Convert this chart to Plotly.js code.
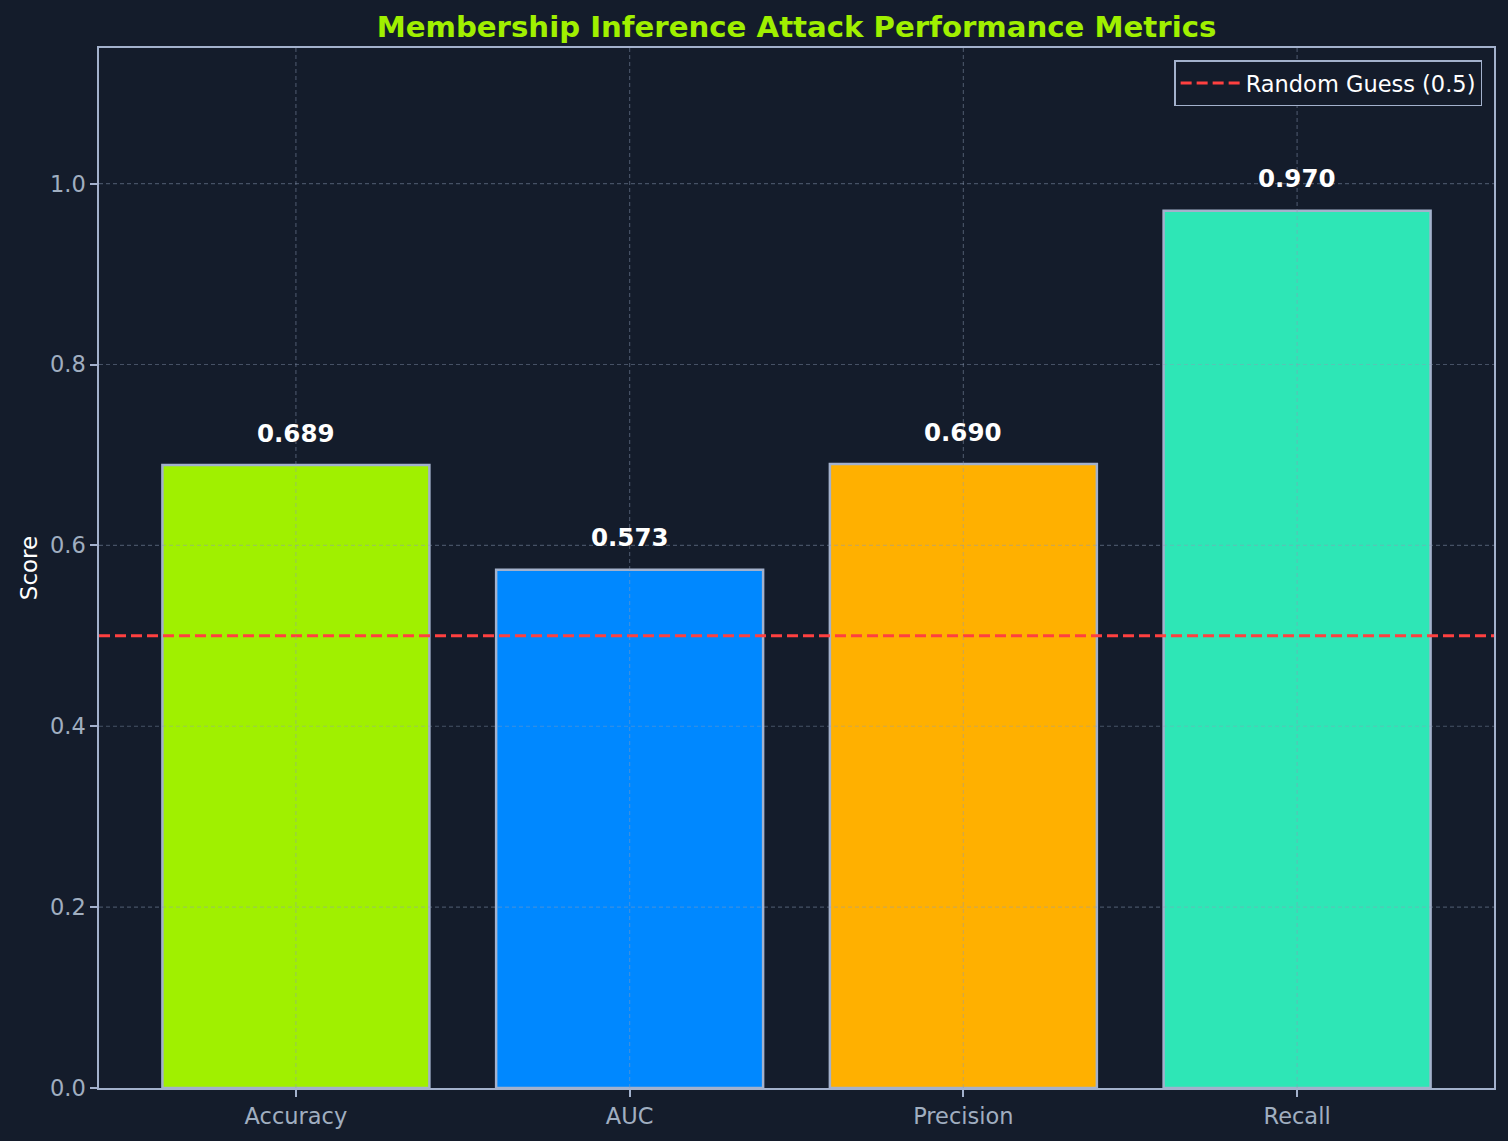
<!DOCTYPE html>
<html>
<head>
<meta charset="utf-8">
<script src="https://cdn.plot.ly/plotly-3.0.1.min.js"></script>
<style>
  html, body { margin: 0; padding: 0; background: #141c2b; }
  #chart { width: 1508px; height: 1141px; }
</style>
</head>
<body>
<div id="chart"></div>
<script>
// Chart data
const metrics = ['Accuracy', 'AUC', 'Precision', 'Recall'];
const scores = [0.689, 0.573, 0.690, 0.970];
const barColors = ['#a0f000', '#0088ff', '#ffb000', '#2ee6b6'];
const baseline = 0.5;
const yTicks = [0, 0.2, 0.4, 0.6, 0.8, 1.0];

const BG = '#141c2b';
const EDGE = '#a3b1cc';
const TICK = '#a0aec0';
const GRID = 'rgba(140,155,180,0.42)';

const bars = {
    x: metrics,
    y: scores,
    type: 'bar',
    width: 0.8,
    marker: {
        color: barColors,
        line: { color: EDGE, width: 2.5 }
    },
    showlegend: false,
    hoverinfo: 'skip'
};

// Random guess line across the full axis
const guess = {
    x: [0, 1],
    y: [baseline, baseline],
    type: 'scatter',
    mode: 'lines',
    name: 'Random Guess (0.5)',
    line: { color: '#ff4040', width: 3, dash: '11px,5px' },
    xaxis: 'x2',
    hoverinfo: 'skip'
};

const labels = metrics.map((m, i) => ({
    x: m,
    y: scores[i] + 0.017,
    text: '<b>' + scores[i].toFixed(3) + '</b>',
    showarrow: false,
    yanchor: 'bottom',
    font: { color: '#ffffff', size: 24.5, family: 'DejaVu Sans' }
}));

// Grid lines drawn over the bars, like the reference
const gridShapes = yTicks.slice(1).map(v => ({
    type: 'line', layer: 'above',
    xref: 'paper', x0: 0, x1: 1,
    yref: 'y', y0: v, y1: v,
    line: { color: GRID, width: 1.2, dash: '4px,3px' }
})).concat(metrics.map(m => ({
    type: 'line', layer: 'above',
    xref: 'x', x0: m, x1: m,
    yref: 'paper', y0: 0, y1: 1,
    line: { color: GRID, width: 1.2, dash: '4px,3px' }
})));

const layout = {
    width: 1508,
    height: 1141,
    paper_bgcolor: BG,
    plot_bgcolor: BG,
    font: { family: 'DejaVu Sans', color: TICK, size: 22 },
    margin: { l: 99, r: 14, t: 48, b: 53 },
    title: {
        text: '<b>Membership Inference Attack Performance Metrics</b>',
        font: { color: '#a0f000', size: 29.2, family: 'DejaVu Sans' },
        xref: 'paper', x: 0.5, xanchor: 'center',
        y: 1 - 27 / 1141, yanchor: 'middle'
    },
    xaxis: {
        type: 'category',
        range: [-0.59, 3.59],
        showline: true, linecolor: EDGE, linewidth: 1.5, mirror: true,
        ticks: 'outside', ticklen: 7, tickcolor: EDGE, tickwidth: 1.5,
        showgrid: false,
        tickfont: { color: TICK, size: 22.5 },
        zeroline: false
    },
    xaxis2: {
        overlaying: 'x',
        range: [0, 1],
        visible: false
    },
    yaxis: {
        range: [0, 1.15],
        tickvals: yTicks,
        tickformat: '.1f',
        showline: true, linecolor: EDGE, linewidth: 1.5, mirror: true,
        ticks: 'outside', ticklen: 7, tickcolor: EDGE, tickwidth: 1.5,
        showgrid: false,
        tickfont: { color: TICK, size: 22.5 },
        title: { text: 'Score', font: { color: '#ffffff', size: 23 }, standoff: 6 },
        zeroline: false
    },
    showlegend: true,
    legend: {
        x: 0.9915, xanchor: 'right',
        y: 0.988, yanchor: 'top',
        bgcolor: BG,
        bordercolor: EDGE,
        borderwidth: 1.5,
        itemwidth: 60,
        font: { color: '#ffffff', size: 22.5 }
    },
    shapes: gridShapes,
    annotations: labels
};

Plotly.newPlot('chart', [bars, guess], layout, { displayModeBar: false });
</script>
</body>
</html>
